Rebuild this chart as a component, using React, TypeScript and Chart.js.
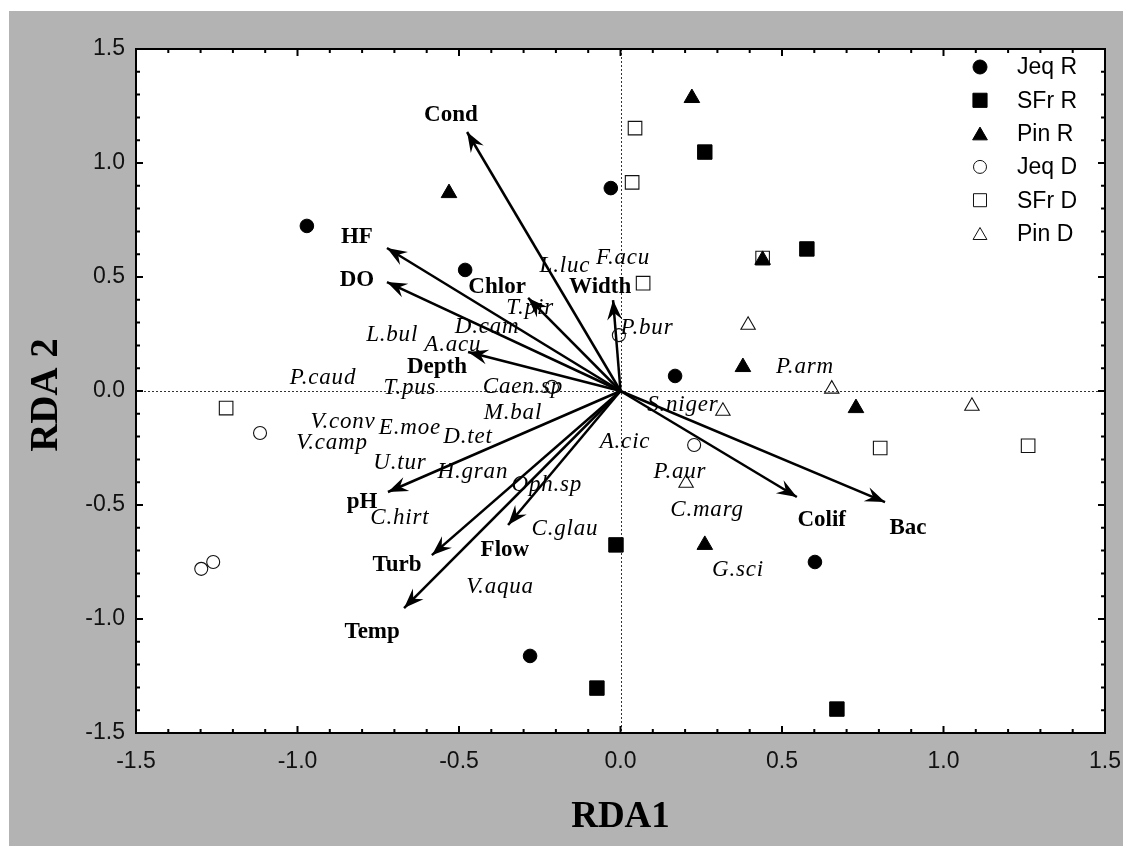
import React, { useEffect, useRef } from 'react';
import { Chart, registerables } from 'chart.js';

Chart.register(...registerables);

// ---- Site scores (RDA1, RDA2) ----
const seriesNames = ['Jeq R', 'SFr R', 'Pin R', 'Jeq D', 'SFr D', 'Pin D'];

const jeqRX = [-0.971, -0.481, -0.03, 0.169, 0.602, -0.28];
const jeqRY = [0.724, 0.531, 0.89, 0.066, -0.75, -1.162];

const sfrRX = [0.261, 0.577, -0.014, -0.073, 0.67];
const sfrRY = [1.048, 0.623, -0.675, -1.303, -1.395];

const pinRX = [0.221, -0.531, 0.44, 0.379, 0.729, 0.261];
const pinRY = [1.285, 0.868, 0.575, 0.105, -0.075, -0.675];

const jeqDX = [-1.116, -1.261, -1.298, -0.005, 0.228, -0.212];
const jeqDY = [-0.184, -0.75, -0.78, 0.245, -0.237, 0.018];

const sfrDX = [0.045, 0.036, 0.07, 0.44, -1.221, 0.804, 1.262];
const sfrDY = [1.153, 0.915, 0.473, 0.583, -0.075, -0.25, -0.24];

const pinDX = [0.395, 0.317, 0.203, 0.654, 1.088];
const pinDY = [0.289, -0.088, -0.404, 0.009, -0.066];

// ---- Environmental vectors ----
const envNames = ['Cond', 'HF', 'DO', 'Chlor', 'Width', 'Depth', 'pH', 'Turb', 'Temp', 'Flow', 'Colif', 'Bac'];
const envX = [-0.475, -0.723, -0.723, -0.286, -0.023, -0.472, -0.72, -0.584, -0.67, -0.348, 0.546, 0.819];
const envY = [1.136, 0.627, 0.478, 0.408, 0.399, 0.171, -0.443, -0.72, -0.952, -0.588, -0.465, -0.487];
const envLabelX = [-0.525, -0.816, -0.816, -0.382, -0.063, -0.568, -0.8, -0.692, -0.769, -0.358, 0.623, 0.89];
const envLabelY = [1.211, 0.675, 0.487, 0.456, 0.456, 0.105, -0.487, -0.763, -1.057, -0.697, -0.566, -0.601];

// ---- Species scores ----
const speciesNames = ['L.luc', 'F.acu', 'T.pir', 'D.cam', 'L.bul', 'A.acu', 'P.bur', 'P.caud', 'T.pus', 'Caen.sp',
  'M.bal', 'V.conv', 'E.moe', 'D.tet', 'V.camp', 'U.tur', 'H.gran', 'Oph.sp', 'A.cic', 'S.niger', 'P.aur',
  'C.marg', 'C.hirt', 'C.glau', 'G.sci', 'V.aqua', 'P.arm'];
const speciesX = [-0.172, 0.008, -0.28, -0.413, -0.707, -0.519, 0.082, -0.921, -0.652, -0.302,
  -0.333, -0.859, -0.652, -0.472, -0.893, -0.683, -0.457, -0.228, 0.014, 0.193, 0.184,
  0.268, -0.683, -0.172, 0.364, -0.373, 0.571];
const speciesY = [0.548, 0.583, 0.364, 0.281, 0.246, 0.202, 0.276, 0.057, 0.013, 0.018,
  -0.096, -0.136, -0.162, -0.202, -0.228, -0.316, -0.355, -0.412, -0.224, -0.061, -0.355,
  -0.522, -0.557, -0.605, -0.785, -0.86, 0.105];

// ---- Axis ----
const axisMin = -1.5;
const axisMax = 1.5;
const minorStep = 0.1;
const xTitle = 'RDA1';
const yTitle = 'RDA 2';

const zip = (xs: number[], ys: number[]) => xs.map((x, i) => ({ x, y: ys[i] }));

const SERIF = '"Liberation Serif", "Times New Roman", serif';
const SANS = '"Liberation Sans", Arial, sans-serif';

const isMajor = (v: number) => Math.abs(v * 2 - Math.round(v * 2)) < 1e-6;

const markerStyles = [
  { style: 'circle', radius: 6.8, fill: '#000', stroke: '#000', bw: 1 },
  { style: 'rect', radius: 10.2, fill: '#000', stroke: '#000', bw: 1 },
  { style: 'triangle', radius: 9, fill: '#000', stroke: '#000', bw: 1 },
  { style: 'circle', radius: 6.5, fill: 'rgba(0,0,0,0)', stroke: '#111', bw: 1.1 },
  { style: 'rect', radius: 9.6, fill: 'rgba(0,0,0,0)', stroke: '#111', bw: 1.1 },
  { style: 'triangle', radius: 8.3, fill: 'rgba(0,0,0,0)', stroke: '#111', bw: 1.1 },
];

function drawMarker(ctx: CanvasRenderingContext2D, style: string, x: number, y: number, r: number, fill: string, stroke: string, bw: number) {
  ctx.beginPath();
  if (style === 'circle') {
    ctx.arc(x, y, r, 0, Math.PI * 2);
  } else if (style === 'rect') {
    const s = r * Math.SQRT1_2;
    ctx.rect(x - s, y - s, 2 * s, 2 * s);
  } else {
    ctx.moveTo(x, y - r);
    ctx.lineTo(x + r * Math.sin(2 * Math.PI / 3), y - r * Math.cos(2 * Math.PI / 3));
    ctx.lineTo(x + r * Math.sin(4 * Math.PI / 3), y - r * Math.cos(4 * Math.PI / 3));
    ctx.closePath();
  }
  ctx.fillStyle = fill;
  ctx.fill();
  ctx.lineWidth = bw;
  ctx.strokeStyle = stroke;
  ctx.stroke();
}

const framePlugin = {
  id: 'frame',
  beforeDraw(chart: any) {
    const { ctx, width, height, chartArea: ca } = chart;
    ctx.save();
    ctx.fillStyle = '#ffffff';
    ctx.fillRect(0, 0, width, height);
    ctx.fillStyle = '#b3b3b3';
    ctx.fillRect(9, 11, width - 9, height - 11);
    ctx.fillStyle = '#ffffff';
    ctx.fillRect(ca.left, ca.top, ca.right - ca.left, ca.bottom - ca.top);
    const xs = chart.scales.x;
    const ys = chart.scales.y;
    const x0 = xs.getPixelForValue(0);
    const y0 = ys.getPixelForValue(0);
    ctx.strokeStyle = '#333';
    ctx.lineWidth = 1;
    ctx.setLineDash([2, 2]);
    ctx.beginPath();
    ctx.moveTo(Math.round(x0) + 0.5, ca.top);
    ctx.lineTo(Math.round(x0) + 0.5, ca.bottom);
    ctx.moveTo(ca.left, Math.round(y0) + 0.5);
    ctx.lineTo(ca.right, Math.round(y0) + 0.5);
    ctx.stroke();
    ctx.restore();
  },
  afterDatasetsDraw(chart: any) {
    const { ctx } = chart;
    const xs = chart.scales.x;
    const ys = chart.scales.y;
    const ox = xs.getPixelForValue(0);
    const oy = ys.getPixelForValue(0);
    ctx.save();
    // arrowheads
    envX.forEach((vx, i) => {
      const tx = xs.getPixelForValue(vx);
      const ty = ys.getPixelForValue(envY[i]);
      const ang = Math.atan2(ty - oy, tx - ox);
      const ux = Math.cos(ang), uy = Math.sin(ang);
      const px = -uy, py = ux;
      const L = 20, W = 7.5, N = 13;
      ctx.beginPath();
      ctx.moveTo(tx, ty);
      ctx.lineTo(tx - L * ux + W * px, ty - L * uy + W * py);
      ctx.lineTo(tx - N * ux, ty - N * uy);
      ctx.lineTo(tx - L * ux - W * px, ty - L * uy - W * py);
      ctx.closePath();
      ctx.fillStyle = '#000';
      ctx.fill();
    });
    // env labels
    ctx.fillStyle = '#000';
    ctx.textAlign = 'center';
    ctx.textBaseline = 'middle';
    ctx.font = `bold 23px ${SERIF}`;
    envNames.forEach((n, i) => {
      ctx.fillText(n, xs.getPixelForValue(envLabelX[i]), ys.getPixelForValue(envLabelY[i]));
    });
    // species labels
    ctx.font = `italic 23px ${SERIF}`;
    (ctx as any).letterSpacing = '0.8px';
    speciesNames.forEach((n, i) => {
      ctx.fillText(n, xs.getPixelForValue(speciesX[i]), ys.getPixelForValue(speciesY[i]));
    });
    (ctx as any).letterSpacing = '0px';
    ctx.restore();
  },
  afterDraw(chart: any) {
    const { ctx, chartArea: ca } = chart;
    const xs = chart.scales.x;
    const ys = chart.scales.y;
    ctx.save();
    ctx.strokeStyle = '#000';
    ctx.lineWidth = 2;
    ctx.beginPath();
    xs.ticks.forEach((t: any) => {
      const p = xs.getPixelForValue(t.value);
      const len = isMajor(t.value) ? 7 : 4;
      ctx.moveTo(p, ca.bottom);
      ctx.lineTo(p, ca.bottom - len);
      ctx.moveTo(p, ca.top);
      ctx.lineTo(p, ca.top + len);
    });
    ys.ticks.forEach((t: any) => {
      const p = ys.getPixelForValue(t.value);
      const len = isMajor(t.value) ? 7 : 4;
      ctx.moveTo(ca.left, p);
      ctx.lineTo(ca.left + len, p);
      ctx.moveTo(ca.right, p);
      ctx.lineTo(ca.right - len, p);
    });
    ctx.stroke();
    ctx.strokeRect(ca.left, ca.top, ca.right - ca.left, ca.bottom - ca.top);

    // axis titles
    ctx.fillStyle = '#000';
    ctx.textAlign = 'center';
    ctx.textBaseline = 'middle';
    ctx.font = `bold 37px ${SERIF}`;
    ctx.fillText(xTitle, (ca.left + ca.right) / 2, 817);
    ctx.save();
    ctx.translate(47, (ca.top + ca.bottom) / 2 + 4);
    ctx.rotate(-Math.PI / 2);
    ctx.font = `bold 39px ${SERIF}`;
    ctx.fillText(yTitle, 0, 0);
    ctx.restore();

    // legend
    ctx.font = `23px ${SANS}`;
    ctx.textAlign = 'left';
    ctx.textBaseline = 'middle';
    const legR = [7, 10, 8.5, 6.5, 9.2, 8];
    seriesNames.forEach((n, i) => {
      const y = 67 + i * 33.3;
      const m = markerStyles[i];
      const my = m.style === 'triangle' ? y + 2 : y;
      drawMarker(ctx, m.style, 980, my, legR[i], m.fill === '#000' ? '#000' : '#fff', m.stroke, 1);
      ctx.fillStyle = '#000';
      ctx.fillText(n, 1017, y + 1);
    });
    ctx.restore();
  },
};

export default function App() {
  const ref = useRef<HTMLCanvasElement | null>(null);
  useEffect(() => {
    if (!ref.current) return;
    const pointSets = [
      zip(jeqRX, jeqRY), zip(sfrRX, sfrRY), zip(pinRX, pinRY),
      zip(jeqDX, jeqDY), zip(sfrDX, sfrDY), zip(pinDX, pinDY),
    ];
    const pointDatasets = pointSets.map((d, i) => ({
      type: 'scatter' as const,
      label: seriesNames[i],
      data: d,
      pointStyle: markerStyles[i].style,
      pointRadius: markerStyles[i].radius,
      pointBackgroundColor: markerStyles[i].fill,
      pointBorderColor: markerStyles[i].stroke,
      pointBorderWidth: markerStyles[i].bw,
      showLine: false,
    }));
    const arrowDatasets = envNames.map((n, i) => ({
      type: 'line' as const,
      label: n,
      data: [{ x: 0, y: 0 }, { x: envX[i], y: envY[i] }],
      borderColor: '#000',
      borderWidth: 2.5,
      pointRadius: 0,
      fill: false,
    }));
    const tickCb = (v: any) => (isMajor(Number(v)) ? Number(v).toFixed(1) : '');
    const chart = new Chart(ref.current, {
      type: 'scatter',
      data: { datasets: [...pointDatasets, ...arrowDatasets] as any },
      options: {
        animation: false,
        responsive: false,
        maintainAspectRatio: false,
        devicePixelRatio: 1,
        layout: { padding: { top: 49, right: 18, left: 0, bottom: 0 } },
        plugins: { legend: { display: false }, tooltip: { enabled: false } },
        scales: {
          x: {
            type: 'linear', min: axisMin, max: axisMax,
            grid: { display: false, drawTicks: false },
            border: { display: false },
            ticks: {
              stepSize: minorStep, autoSkip: false, maxRotation: 0, minRotation: 0,
              padding: 15, color: '#111', font: { family: SANS, size: 23 },
              callback: tickCb,
            },
            afterFit: (s: any) => { s.height = 113; s.paddingLeft = 0; s.paddingRight = 0; },
          },
          y: {
            type: 'linear', min: axisMin, max: axisMax,
            grid: { display: false, drawTicks: false },
            border: { display: false },
            ticks: {
              stepSize: minorStep, autoSkip: false,
              padding: 11, color: '#111', font: { family: SANS, size: 23 },
              callback: tickCb,
            },
            afterFit: (s: any) => { s.width = 136; s.paddingTop = 0; s.paddingBottom = 0; },
          },
        },
      } as any,
      plugins: [framePlugin],
    });
    return () => chart.destroy();
  }, []);
  return (
    <div style={{ position: 'absolute', left: 0, top: 0, width: 1123, height: 846 }}>
      <canvas ref={ref} width={1123} height={846} style={{ display: 'block', width: 1123, height: 846 }} />
    </div>
  );
}
